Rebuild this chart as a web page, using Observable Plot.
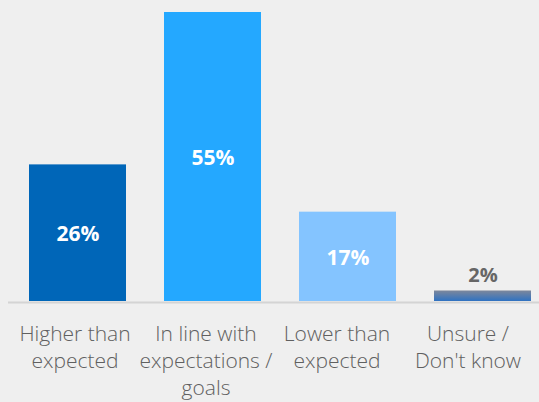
<!DOCTYPE html>
<html><head><meta charset="utf-8">
<script src="https://cdn.jsdelivr.net/npm/d3@7"></script>
<script src="https://cdn.jsdelivr.net/npm/@observablehq/plot@0.6"></script>
<style>
html,body{margin:0;padding:0;background:#efefef;}
#chart{position:relative;width:539px;height:402px;}
#chart svg{position:absolute;left:0;top:0;}
</style></head><body><div id="chart"></div>
<script>
const categories = ["Higher than\nexpected", "In line with\nexpectations /\ngoals", "Lower than\nexpected", "Unsure /\nDon't know"];
const values = [26, 55, 17, 2];
const valueLabels = ["26%", "55%", "17%", "2%"];
const barColors = ["#0066b8", "#24a8ff", "#84c4ff", "url(#g4)"];

const data = categories.map((c, i) => ({category: c, value: values[i], label: valueLabels[i]}));

const defs = () => {
  const svg = d3.create("svg:defs");
  const g = svg.append("linearGradient").attr("id", "g4").attr("x1", 0).attr("y1", 0).attr("x2", 0).attr("y2", 1);
  g.append("stop").attr("offset", "0%").attr("stop-color", "#7d879b");
  g.append("stop").attr("offset", "100%").attr("stop-color", "#2f72c2");
  return svg.node();
};

const main = Plot.plot({
  width: 539, height: 402,
  marginTop: 12, marginBottom: 101, marginLeft: 28, marginRight: 8,
  style: {background: "#efefef", fontFamily: "'Open Sans', sans-serif"},
  x: {type: "band", domain: categories, paddingInner: 0.284, paddingOuter: 0, axis: null},
  y: {domain: [0, 55], axis: null},
  color: {domain: categories, range: barColors},
  marks: [
    defs,
    Plot.barY(data, {x: "category", y: "value", fill: "category"}),
    Plot.ruleY([0], {stroke: "#d4d4d4", strokeWidth: 2, insetLeft: -20, insetRight: -8, dy: 1}),
    Plot.text(data.filter(d => d.value >= 5), {x: "category", y: d => d.value / 2, text: "label", fill: "white", fontSize: 21, fontWeight: 700, dy: 1}),
    Plot.text(data.filter(d => d.value < 5), {x: "category", y: "value", text: "label", dy: -15, fill: "#666666", fontSize: 20, fontWeight: 700})
  ]
});

const labelsPlot = Plot.plot({
  width: 539, height: 402,
  marginTop: 0, marginBottom: 0, marginLeft: 8, marginRight: 6,
  style: {background: "transparent", fontFamily: "'Open Sans', sans-serif"},
  x: {type: "band", domain: categories, padding: 0, axis: null},
  marks: [
    Plot.text(categories, {x: d => d, frameAnchor: "top", dy: 321, lineAnchor: "top", lineHeight: 1.29, fontSize: 21, fontWeight: 300, fill: "#606060"})
  ]
});

const el = document.getElementById("chart");
el.appendChild(main);
el.appendChild(labelsPlot);
</script>
</body></html>
